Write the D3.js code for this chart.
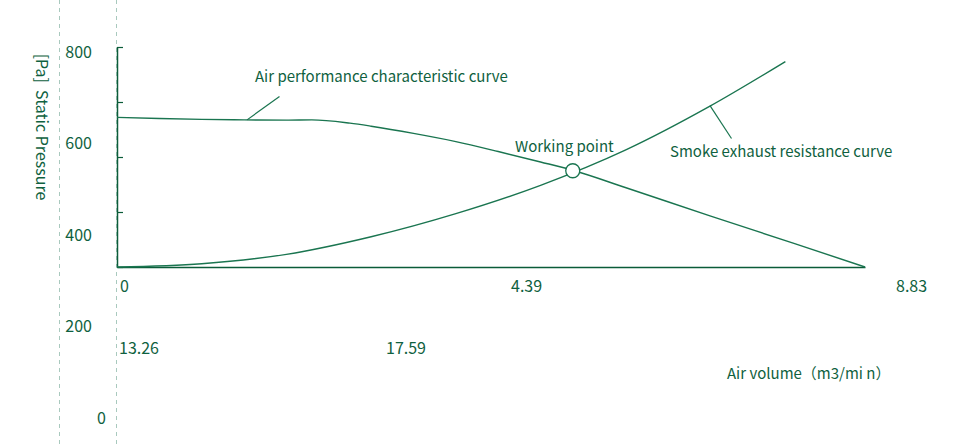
<!DOCTYPE html>
<html><head><meta charset="utf-8">
<script src="https://cdn.jsdelivr.net/npm/d3@7"></script>
<style>
html,body{margin:0;padding:0;background:#fff;}
svg text{font-family:"Noto Sans CJK SC","Noto Sans",sans-serif;fill:#0f6140;}
</style></head>
<body><svg id="c" width="977" height="448"></svg>
<script>
// ---- data ----
const yTickLabels = ["800","600","400","200","0"];
const xTickRow1 = ["0","4.39","8.83"];
const xTickRow2 = ["13.26","17.59"];
const yTicks = [0,200,400,600,800];
// fan (air performance characteristic) curve: [airflow, pressure]
const fanCurve = [[0,544],[0.5,540],[1.0,537],[1.5,535],[2.0,534],[2.3,535],[2.75,523],[3.0,512],[3.5,486],[4.0,456],[4.5,420],[5.0,382],[5.4,350],[6.0,289],[7.0,186],[8.0,85],[8.83,0]];
// smoke exhaust resistance curve
const resistCurve = [[0,0],[1,12],[2,46],[3,110],[4,194],[5,297],[6,425],[7,585],[7.89,747]];
const workingPoint = [5.38,350];

const svg = d3.select("#c");
const x = d3.scaleLinear().domain([0,8.83]).range([117,865]);
const y = d3.scaleLinear().domain([0,800]).range([267,47]);
const green = "#1a7550", axisCol = "#0b5c39";

// dashed guides
[59.5,116.5].forEach(gx=>{
  svg.append("line").attr("x1",gx).attr("x2",gx).attr("y1",0).attr("y2",448)
    .attr("stroke","#a9c9be").attr("stroke-width",1).attr("stroke-dasharray","4,4");
});

// y axis
const yAxis = d3.axisRight(y).tickValues(yTicks).tickSize(6).tickFormat("");
const gy = svg.append("g").attr("transform","translate(117,0)").call(yAxis);
gy.select(".domain").attr("stroke",axisCol).attr("stroke-width",1.5).attr("d","M0.5,47V267");
gy.selectAll(".tick line").attr("stroke",axisCol).attr("stroke-width",1.2);

// x axis line
const gx = svg.append("g").attr("transform","translate(0,267)")
  .call(d3.axisBottom(x).tickValues([]).tickSizeOuter(0));
gx.select(".domain").attr("stroke",axisCol).attr("stroke-width",1.5);

// y tick labels (offset band layout)
const yl = d3.scalePoint().domain(yTickLabels).range([52,418]);
svg.selectAll(".yl").data(yTickLabels).enter().append("text")
  .attr("x",d=>d==="0"?106:92).attr("y",d=>yl(d)).attr("dy","0.35em").attr("text-anchor","end")
  .attr("font-size",16).text(d=>d);

// x tick labels rows
const xr1 = d3.scalePoint().domain(xTickRow1).range([120,896]);
svg.selectAll(".x1").data(xTickRow1).enter().append("text")
  .attr("x",(d,i)=>xr1(d)+(i==1?3:0)).attr("y",286).attr("dy","0.35em")
  .attr("font-size",16).text(d=>d);
const xr2 = d3.scalePoint().domain(xTickRow2).range([119,386]);
svg.selectAll(".x2").data(xTickRow2).enter().append("text")
  .attr("x",d=>xr2(d)).attr("y",348).attr("dy","0.35em")
  .attr("font-size",16).text(d=>d);

// y title
svg.append("text").attr("transform","translate(36,127) rotate(90)")
  .attr("text-anchor","middle").attr("font-size",16).text("[Pa]\u00a0\u00a0Static Pressure");

// x title
svg.append("text").attr("x",727).attr("y",374).attr("dy","0.35em")
  .attr("font-size",15).text("Air volume（m3/mi n）");

// curves
const line = d3.line().x(d=>x(d[0])).y(d=>y(d[1])).curve(d3.curveMonotoneX);
svg.append("path").attr("d",line(fanCurve)).attr("fill","none").attr("stroke",green).attr("stroke-width",1.4);
svg.append("path").attr("d",line(resistCurve)).attr("fill","none").attr("stroke",green).attr("stroke-width",1.4);

// working point
svg.append("circle").attr("cx",x(workingPoint[0])).attr("cy",y(workingPoint[1])).attr("r",7)
  .attr("fill","#fff").attr("stroke",green).attr("stroke-width",1.3);

// leader lines
svg.append("line").attr("x1",x(1.535)).attr("y1",y(535)).attr("x2",279.5).attr("y2",96.5)
  .attr("stroke",green).attr("stroke-width",1.2);
svg.append("line").attr("x1",x(7.0)).attr("y1",y(587)).attr("x2",731.5).attr("y2",138.5)
  .attr("stroke",green).attr("stroke-width",1.2);

// annotations
svg.append("text").attr("x",255).attr("y",77).attr("dy","0.35em").attr("font-size",15)
  .text("Air performance characteristic curve");
svg.append("text").attr("x",515).attr("y",147).attr("dy","0.35em").attr("font-size",15)
  .text("Working point");
svg.append("text").attr("x",670).attr("y",152).attr("dy","0.35em").attr("font-size",15)
  .text("Smoke exhaust resistance curve");
</script></body></html>
